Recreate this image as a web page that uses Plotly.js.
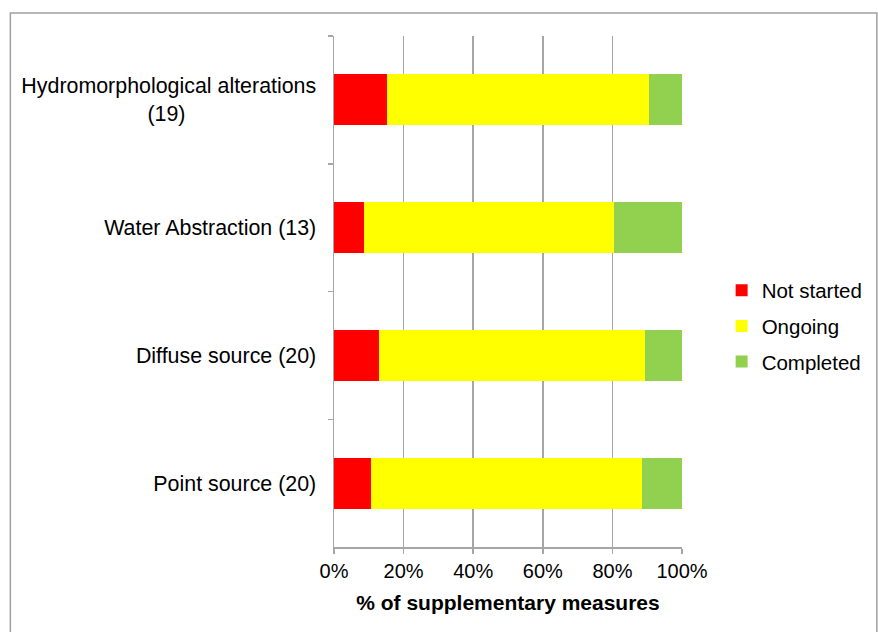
<!DOCTYPE html>
<html>
<head>
<meta charset="utf-8">
<script src="https://cdn.plot.ly/plotly-3.0.1.min.js"></script>
<style>html,body{margin:0;padding:0;background:#fff;overflow:hidden;}</style>
</head>
<body>
<div id="chart" style="width:878px;height:632px;"></div>
<script>
var categories = [
  "Hydromorphological alterations<br>(19)" ,
  "Water Abstraction (13)",
  "Diffuse source (20)",
  "Point source (20)"
];
var notStarted = [0.152, 0.085, 0.130, 0.107];
var ongoing    = [0.752, 0.720, 0.763, 0.777];
var completed  = [0.096, 0.195, 0.107, 0.116];
var seriesNames = ["Not started", "Ongoing", "Completed"];
var seriesColors = ["#FF0000", "#FFFF00", "#92D050"];

// pad second line of two-line label so it appears centered
var pad = "";
for (var i = 0; i < 22; i++) pad += "\u00A0";
var catLabels = categories.map(function (c) {
  return c.indexOf("<br>") >= 0 ? c.replace("<br>(19)", "<br>(19)" + pad) : c;
});

var seriesValues = [notStarted, ongoing, completed];
var traces = seriesValues.map(function (vals, k) {
  return {
    type: "bar",
    orientation: "h",
    name: seriesNames[k],
    legendgroup: "g" + k,
    x: vals,
    y: catLabels,
    marker: { color: seriesColors[k], line: { width: 0 } },
    hoverinfo: "x+name"
  };
});

var L = 333.7, R = 682.3, T = 35.7, B = 547.3;
var W = 878, H = 632;
function px(x) { return (x - L) / (R - L); }
function py(y) { return (B - y) / (B - T); }

var layout = {
  width: W,
  height: H,
  margin: { l: L, r: W - R, t: T, b: H - B, pad: 0, autoexpand: false },
  paper_bgcolor: "#ffffff",
  plot_bgcolor: "#ffffff",
  font: { family: "Liberation Sans, Arial, sans-serif", size: 20, color: "#000000" },
  barmode: "stack",
  bargap: 0.6,
  showlegend: true,
  legend: {
    x: px(722),
    xanchor: "left",
    y: py(326),
    yanchor: "middle",
    traceorder: "grouped",
    tracegroupgap: 6,
    font: { size: 20.5, color: "#000000" },
    bgcolor: "rgba(0,0,0,0)"
  },
  xaxis: {
    range: [0, 1],
    dtick: 0.2,
    tick0: 0,
    tickformat: ".0%",
    showgrid: true,
    gridcolor: "#A6A6A6",
    gridwidth: 1.5,
    zeroline: false,
    showline: true,
    linecolor: "#A6A6A6",
    linewidth: 1.5,
    ticks: "outside",
    ticklen: 5,
    tickcolor: "#A6A6A6",
    tickwidth: 1.5,
    tickfont: { size: 20 },
    automargin: false,
    title: { text: "<b>% of supplementary measures</b>", font: { size: 21 }, standoff: 15 }
  },
  yaxis: {
    type: "category",
    autorange: "reversed",
    showgrid: false,
    zeroline: false,
    showline: true,
    linecolor: "#A6A6A6",
    linewidth: 1.5,
    ticks: "outside",
    tickson: "boundaries",
    ticklen: 5,
    tickcolor: "#A6A6A6",
    tickwidth: 1.5,
    ticklabelstandoff: 12,
    tickfont: { size: 21.4 },
    automargin: false
  },
  shapes: [{
    type: "rect",
    xref: "paper", yref: "paper",
    x0: px(9.5), x1: px(877.5), y0: py(645), y1: py(12.7),
    line: { color: "#A0A0A0", width: 1.5 },
    fillcolor: "rgba(0,0,0,0)",
    layer: "below"
  }]
};

Plotly.newPlot("chart", traces, layout, { displayModeBar: false, staticPlot: true });
</script>
</body>
</html>
